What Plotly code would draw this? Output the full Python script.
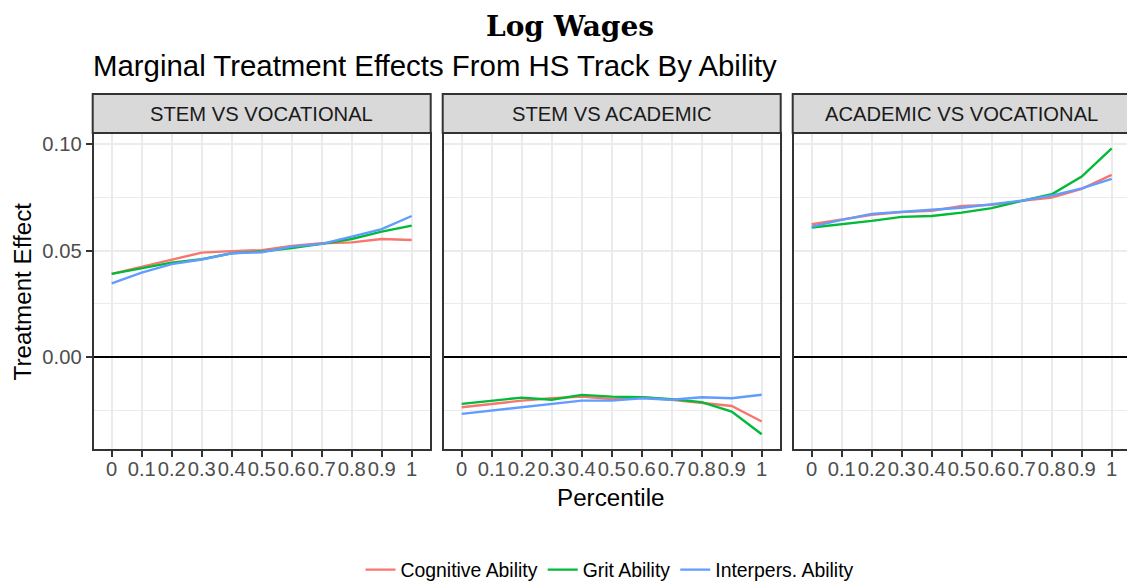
import plotly.graph_objects as go

# ---------------- data ----------------
percentile = [0, 0.1, 0.2, 0.3, 0.4, 0.5, 0.6, 0.7, 0.8, 0.9, 1.0]
tick_labels = ["0", "0.1", "0.2", "0.3", "0.4", "0.5", "0.6", "0.7", "0.8", "0.9", "1"]
panels = ["STEM VS VOCATIONAL", "STEM VS ACADEMIC", "ACADEMIC VS VOCATIONAL"]
series_names = ["Cognitive Ability", "Grit Ability", "Interpers. Ability"]
y_ticks = [0.0, 0.05, 0.10]
y_tick_labels = ["0.00", "0.05", "0.10"]

stem_voc_cog = [0.0391, 0.0425, 0.0460, 0.0491, 0.0498, 0.0503, 0.0523, 0.0535, 0.0539, 0.0555, 0.0550]
stem_voc_grit = [0.0391, 0.0418, 0.0444, 0.0460, 0.0488, 0.0496, 0.0512, 0.0532, 0.0555, 0.0590, 0.0618]
stem_voc_inter = [0.0347, 0.0397, 0.0437, 0.0459, 0.0488, 0.0493, 0.0519, 0.0532, 0.0566, 0.0601, 0.0663]

stem_acad_cog = [-0.0235, -0.0219, -0.0204, -0.0193, -0.0185, -0.0196, -0.0188, -0.0200, -0.0213, -0.0229, -0.0302]
stem_acad_grit = [-0.0219, -0.0205, -0.0190, -0.0200, -0.0177, -0.0185, -0.0188, -0.0197, -0.0211, -0.0255, -0.0362]
stem_acad_inter = [-0.0266, -0.0251, -0.0237, -0.0219, -0.0204, -0.0204, -0.0193, -0.0200, -0.0188, -0.0193, -0.0176]

acad_voc_cog = [0.0624, 0.0645, 0.0668, 0.0681, 0.0687, 0.0710, 0.0715, 0.0734, 0.0749, 0.0790, 0.0856]
acad_voc_grit = [0.0609, 0.0624, 0.0640, 0.0659, 0.0663, 0.0679, 0.0700, 0.0734, 0.0765, 0.0848, 0.0981]
acad_voc_inter = [0.0613, 0.0645, 0.0673, 0.0681, 0.0692, 0.0702, 0.0720, 0.0735, 0.0759, 0.0793, 0.0837]

panel_data = [
    [stem_voc_cog, stem_voc_grit, stem_voc_inter],
    [stem_acad_cog, stem_acad_grit, stem_acad_inter],
    [acad_voc_cog, acad_voc_grit, acad_voc_inter],
]
colors = ["#F8766D", "#00BA38", "#619CFF"]

# ---------------- layout geometry (pixels) ----------------
W, H = 1127, 582
FONT = "Liberation Sans, Arial, Helvetica, sans-serif"
panel_px = [(93.7, 429.7), (443.7, 779.7), (793.7, 1127.0)]
x_ranges = [[-0.06, 1.06], [-0.06, 1.06], [-0.06, 1.051]]
plot_top, plot_bot = 134.0, 449.0
y_range = [-0.0431, 0.1048]
strip_top = 94.0

def px(x):
    return x / W

def py(y):
    return (H - y) / H

fig = go.Figure()

for i, series in enumerate(panel_data):
    suffix = "" if i == 0 else str(i + 1)
    for j, (sname, vals) in enumerate(zip(series_names, series)):
        fig.add_trace(go.Scatter(
            x=percentile, y=vals, mode="lines", name=sname,
            line=dict(color=colors[j], width=2.4),
            xaxis="x" + suffix, yaxis="y" + suffix,
            legendgroup=sname, showlegend=(i == 0),
        ))

layout = dict(
    width=W, height=H, autosize=False,
    margin=dict(l=0, r=0, t=0, b=0, pad=0, autoexpand=False),
    paper_bgcolor="white", plot_bgcolor="white",
    template="none",
    font=dict(family=FONT, color="#000000"),
    showlegend=True,
    legend=dict(
        orientation="h", x=px(610), xanchor="center", y=py(570), yanchor="middle",
        font=dict(size=19.4, family=FONT, color="#000000"),
        itemwidth=30, bgcolor="rgba(0,0,0,0)", tracegroupgap=0,
    ),
)

shapes = []
annotations = []
for i, (x0, x1) in enumerate(panel_px):
    suffix = "" if i == 0 else str(i + 1)
    layout["xaxis" + suffix] = dict(
        domain=[px(x0), px(x1)], range=x_ranges[i], anchor="y" + suffix,
        tickmode="array", tickvals=percentile, ticktext=tick_labels,
        showgrid=True, gridcolor="#EBEBEB", gridwidth=2,
        zeroline=False, showline=True, linecolor="#333333", linewidth=2, mirror=True,
        ticks="outside", ticklen=6, tickwidth=2, tickcolor="#333333",
        ticklabelstandoff=-5, tickangle=0,
        tickfont=dict(size=20.2, color="#4D4D4D", family=FONT),
        automargin=False, fixedrange=True,
    )
    layout["yaxis" + suffix] = dict(
        domain=[py(plot_bot), py(plot_top)], range=y_range, anchor="x" + suffix,
        tickmode="array", tickvals=y_ticks, ticktext=y_tick_labels,
        showticklabels=(i == 0),
        showgrid=True, gridcolor="#EBEBEB", gridwidth=2,
        minor=dict(tickvals=[-0.025, 0.025, 0.075], showgrid=True, gridcolor="#EBEBEB", gridwidth=1, ticks=""),
        zeroline=True, zerolinecolor="#000000", zerolinewidth=2,
        showline=True, linecolor="#333333", linewidth=2, mirror=True,
        ticks="outside" if i == 0 else "", ticklen=6, tickwidth=2, tickcolor="#333333",
        tickfont=dict(size=20.2, color="#4D4D4D", family=FONT),
        automargin=False, fixedrange=True,
    )
    # strip
    shapes.append(dict(
        type="rect", xref="paper", yref="paper",
        x0=px(x0 - 1), x1=px(x1 + 1 if i < 2 else x1 + 10),
        y0=py(plot_top - 1), y1=py(strip_top),
        fillcolor="#D9D9D9", line=dict(color="#333333", width=2), layer="above",
    ))
    annotations.append(dict(
        text=panels[i], xref="paper", yref="paper",
        x=px(x0 + 168.0), y=py((strip_top + plot_top) / 2), xanchor="center", yanchor="middle",
        showarrow=False, font=dict(size=20.2, color="#1A1A1A", family=FONT),
    ))

annotations += [
    dict(text="<b>Log Wages</b>", xref="paper", yref="paper", x=px(570), y=py(27),
         xanchor="center", yanchor="middle", showarrow=False,
         font=dict(size=28, color="#000000", family="DejaVu Serif, serif")),
    dict(text="Marginal Treatment Effects From HS Track By Ability", xref="paper", yref="paper",
         x=px(91), y=py(65), xanchor="left", yanchor="middle", showarrow=False,
         font=dict(size=29.4, color="#000000", family=FONT)),
    dict(text="Percentile", xref="paper", yref="paper", x=px(611), y=py(497),
         xanchor="center", yanchor="middle", showarrow=False,
         font=dict(size=24.2, color="#000000", family=FONT)),
    dict(text="Treatment Effect", xref="paper", yref="paper", x=px(22), y=py(291.5),
         xanchor="center", yanchor="middle", showarrow=False, textangle=-90,
         font=dict(size=24.2, color="#000000", family=FONT)),
]

layout["shapes"] = shapes
layout["annotations"] = annotations
fig.update_layout(**layout)

fig.write_html(
    "out.html",
    config={"displayModeBar": False},
    post_script="document.body.style.margin='0';document.body.style.padding='0';document.body.style.overflow='hidden';",
)
